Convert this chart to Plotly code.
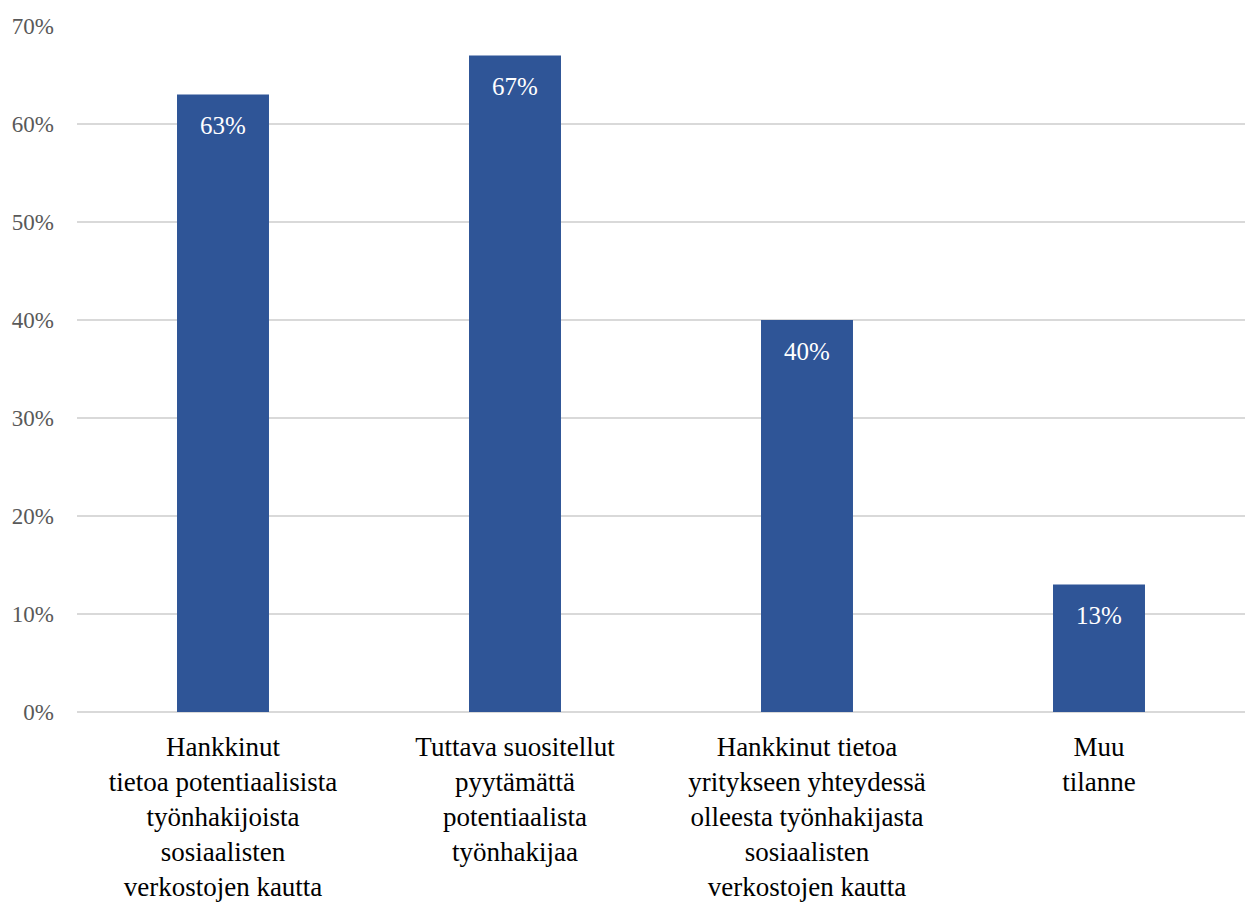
import plotly.graph_objects as go

categories = [
    "Hankkinut<br>tietoa potentiaalisista<br>työnhakijoista<br>sosiaalisten<br>verkostojen kautta",
    "Tuttava suositellut<br>pyytämättä<br>potentiaalista<br>työnhakijaa",
    "Hankkinut tietoa<br>yritykseen yhteydessä<br>olleesta työnhakijasta<br>sosiaalisten<br>verkostojen kautta",
    "Muu<br>tilanne",
]
values = [63, 67, 40, 13]
value_labels = ["63%", "67%", "40%", "13%"]
tick_vals = [0, 10, 20, 30, 40, 50, 60, 70]
tick_text = ["0%", "10%", "20%", "30%", "40%", "50%", "60%", "70%"]

FONT = "Liberation Serif"

fig = go.Figure(
    go.Bar(
        x=categories,
        y=values,
        marker=dict(color="#2F5597", line=dict(width=0)),
        hoverinfo="skip",
    )
)

for c, v, t in zip(categories, values, value_labels):
    fig.add_annotation(
        x=c, y=v, text=t, showarrow=False,
        yanchor="middle", yshift=-31,
        font=dict(family=FONT, size=25, color="white"),
    )

fig.update_layout(
    width=1247,
    height=908,
    margin=dict(l=77, r=2, t=26, b=196),
    paper_bgcolor="white",
    plot_bgcolor="white",
    bargap=0.685,
    showlegend=False,
    font=dict(family=FONT),
)
fig.update_xaxes(
    type="category",
    tickfont=dict(family=FONT, size=27, color="black"),
    showgrid=False,
    showline=False,
    ticks="",
    tickangle=0,
    ticklabelstandoff=16,
)
fig.update_yaxes(
    range=[0, 70],
    tickvals=tick_vals,
    ticktext=tick_text,
    tickfont=dict(family=FONT, size=23, color="#595959"),
    showgrid=True,
    gridcolor="#D9D9D9",
    gridwidth=2,
    zeroline=True,
    zerolinecolor="#D9D9D9",
    zerolinewidth=2,
    showline=False,
    ticks="",
    ticklabelstandoff=22,
)

fig.write_html("out.html")
